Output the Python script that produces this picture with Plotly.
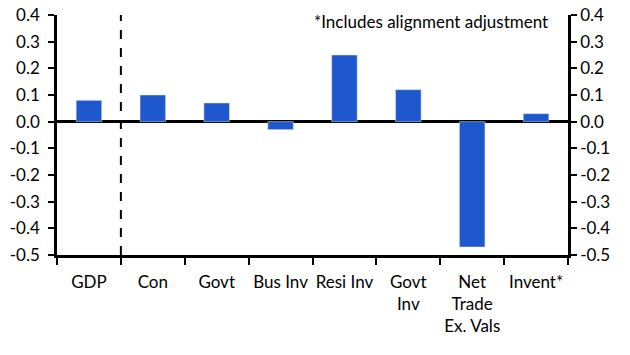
import plotly.graph_objects as go

categories = ["GDP", "Con", "Govt", "Bus Inv", "Resi Inv", "Govt<br>Inv", "Net<br>Trade<br>Ex. Vals", "Invent*"]
values = [0.08, 0.10, 0.07, -0.03, 0.25, 0.12, -0.47, 0.03]
yticks = [0.4, 0.3, 0.2, 0.1, 0.0, -0.1, -0.2, -0.3, -0.4, -0.5]

FONT = "Lato"
FS = 17
fig = go.Figure()
fig.add_trace(go.Bar(x=categories, y=values, marker_color="#1f57cf", width=0.4, showlegend=False))
fig.add_trace(go.Scatter(x=categories, y=values, yaxis="y2", mode="markers",
                         marker=dict(opacity=0), showlegend=False, hoverinfo="skip"))

yax = dict(range=[-0.5, 0.4], tickvals=yticks, ticktext=[f"{v:.1f}" for v in yticks],
           showgrid=False, zeroline=True, zerolinecolor="black", zerolinewidth=2.5,
           showline=True, linecolor="black", linewidth=2.5, ticks="outside", ticklen=6,
           tickwidth=2, tickcolor="black", automargin=False, ticklabelstandoff=5,
           tickfont=dict(family=FONT, size=FS, color="black"))

fig.update_layout(
    width=630, height=355,
    margin=dict(l=57, r=62, t=15, b=100),
    plot_bgcolor="white", paper_bgcolor="white",
    font=dict(family=FONT, size=FS, color="black"),
    xaxis=dict(type="category", tickson="boundaries", ticks="outside", ticklen=7, tickwidth=2,
               tickcolor="black", showline=True, linecolor="black", linewidth=2.5,
               showgrid=False, tickangle=0, automargin=False, ticklabelstandoff=10,
               tickfont=dict(family=FONT, size=FS, color="black")),
    yaxis=yax,
    yaxis2=dict(yax, overlaying="y", side="right", matches="y", ticklabelstandoff=0),
    bargap=0.6,
)

fig.add_shape(type="line", xref="x", yref="y", x0=0.5, x1=0.5, y0=-0.5, y1=0.456,
              line=dict(color="black", width=2, dash="dash"))

fig.add_annotation(text="*Includes alignment adjustment", xref="paper", yref="y",
                   x=0.965, y=0.375, xanchor="right", yanchor="middle", showarrow=False,
                   font=dict(family=FONT, size=FS, color="black"))

fig.write_html("out.html", config={"displayModeBar": False},
               post_script="document.body.style.margin='0';")
